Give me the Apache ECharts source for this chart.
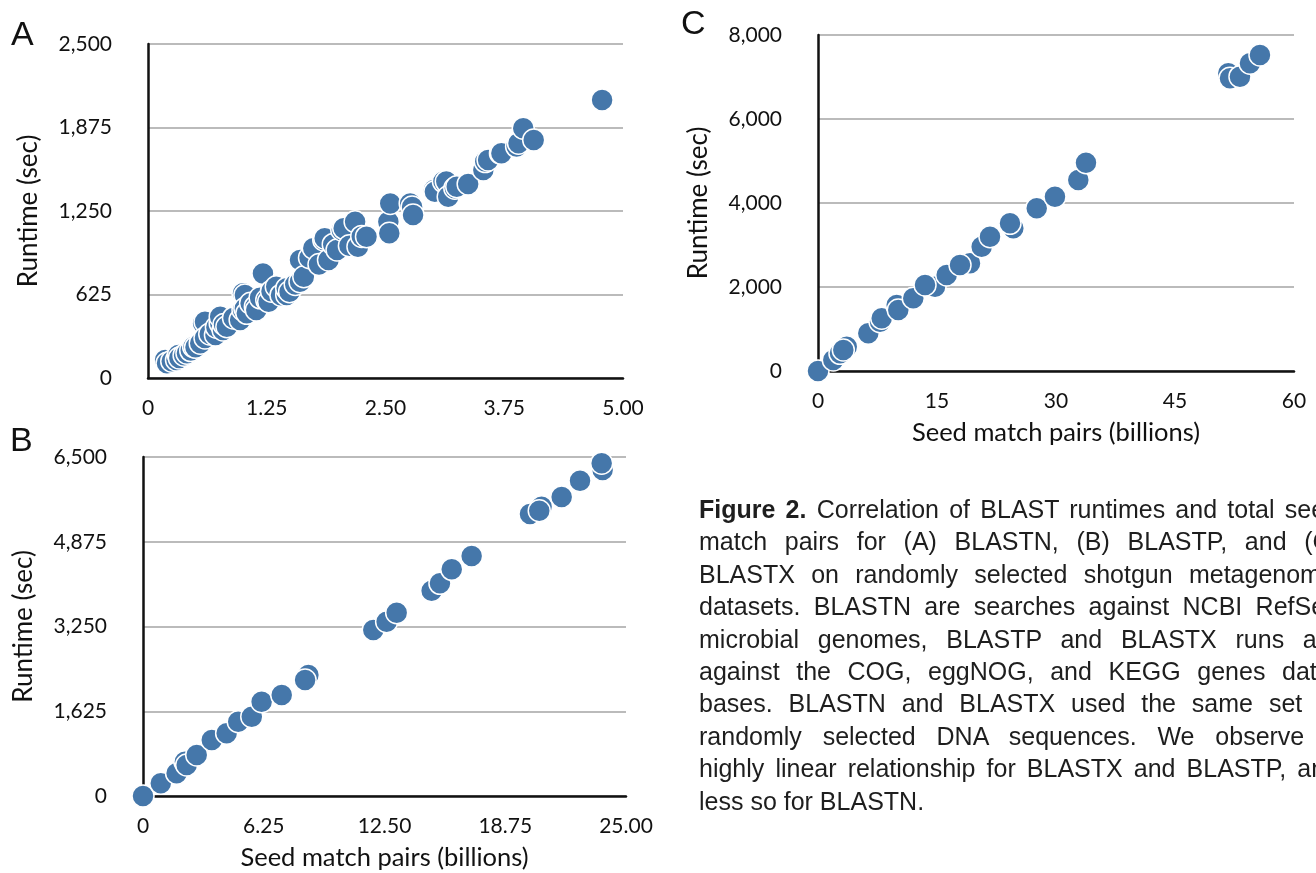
<!DOCTYPE html>
<html>
<head>
<meta charset="utf-8">
<title>Figure 2 - BLAST runtime vs seed match pairs</title>
<script src="https://cdn.jsdelivr.net/npm/echarts@6/dist/echarts.min.js"></script>
<style>
  html, body { margin: 0; padding: 0; background: #fff; overflow: hidden; }
  #main { position: absolute; left: 0; top: 0; width: 1316px; height: 873px; }
  #caption {
    position: absolute; left: 699px; top: 493px; width: 640px;
    font-family: "Liberation Sans", Arial, sans-serif; font-size: 25px;
    line-height: 32.4px; color: #1e1e1e; white-space: nowrap;
  }
  #caption div { text-align: justify; text-align-last: justify; }
  #caption div.last { text-align: left; text-align-last: left; }
</style>
</head>
<body>
<div id="main"></div>
<div id="caption">
  <div><b>Figure 2.</b> Correlation of BLAST runtimes and total seed</div>
  <div>match pairs for (A) BLASTN, (B) BLASTP, and (C)</div>
  <div>BLASTX on randomly selected shotgun metagenomic</div>
  <div>datasets. BLASTN are searches against NCBI RefSeq</div>
  <div>microbial genomes, BLASTP and BLASTX runs are</div>
  <div>against the COG, eggNOG, and KEGG genes data-</div>
  <div>bases. BLASTN and BLASTX used the same set of</div>
  <div>randomly selected DNA sequences. We observe a</div>
  <div>highly linear relationship for BLASTX and BLASTP, and</div>
  <div class="last">less so for BLASTN.</div>
</div>
<script>
// [seed match pairs (billions), runtime (sec)]
var blastnPoints = [
  [0.18, 135], [0.20, 110], [0.25, 125], [0.30, 135], [0.32, 172], [0.33, 150],
  [0.38, 170], [0.41, 185], [0.45, 205], [0.48, 234], [0.50, 230], [0.55, 260],
  [0.58, 409], [0.60, 421], [0.60, 300], [0.65, 330], [0.71, 322], [0.72, 380],
  [0.76, 409], [0.76, 459], [0.79, 359], [0.80, 400], [0.83, 384], [0.90, 450],
  [0.97, 434], [1.00, 509], [1.00, 634], [1.02, 621], [1.02, 520], [1.04, 484],
  [1.08, 560], [1.13, 534], [1.14, 509], [1.18, 600], [1.21, 783], [1.25, 584],
  [1.27, 571], [1.30, 650], [1.35, 683], [1.40, 620], [1.46, 621], [1.46, 671],
  [1.49, 646], [1.55, 700], [1.60, 721], [1.60, 883], [1.64, 758], [1.70, 900],
  [1.74, 971], [1.80, 850], [1.85, 1033], [1.86, 1046], [1.90, 883], [1.95, 1000],
  [1.99, 958], [2.04, 1108], [2.06, 1120], [2.12, 990], [2.18, 1170], [2.21, 983],
  [2.25, 1060], [2.30, 1058], [2.53, 1170], [2.54, 1083], [2.55, 1307], [2.76, 1307],
  [2.78, 1280], [2.79, 1220], [3.01, 1407], [3.02, 1395], [3.11, 1470], [3.14, 1470],
  [3.16, 1357], [3.23, 1420], [3.25, 1432], [3.37, 1452], [3.53, 1557], [3.55, 1620],
  [3.58, 1632], [3.71, 1682], [3.72, 1682], [3.88, 1732], [3.90, 1757], [3.95, 1869],
  [4.06, 1781], [4.78, 2081]
];
var blastpPoints = [
  [0, 0], [0.92, 243], [1.74, 435], [2.17, 658], [2.26, 594], [2.78, 786],
  [3.56, 1074], [4.33, 1202], [4.93, 1425], [5.63, 1521], [6.14, 1808], [7.18, 1937],
  [8.56, 2320], [8.39, 2224], [11.92, 3183], [12.61, 3342], [13.13, 3515], [14.94, 3937],
  [15.37, 4078], [15.98, 4346], [17.01, 4602], [20.03, 5407], [20.63, 5547], [20.51, 5470],
  [21.67, 5735], [22.62, 6046], [23.79, 6251], [23.74, 6379]
];
var blastxPoints = [
  [0, 0], [1.93, 262], [2.77, 421], [3.62, 579], [3.19, 500], [6.34, 898],
  [7.82, 1174], [8.03, 1255], [9.92, 1571], [10.12, 1452], [12.01, 1731], [14.75, 2007],
  [13.49, 2048], [16.22, 2286], [19.16, 2564], [17.90, 2524], [20.63, 2960], [21.68, 3198],
  [24.62, 3398], [24.20, 3516], [27.57, 3874], [29.87, 4150], [32.81, 4548], [33.78, 4960],
  [51.72, 7088], [51.93, 6969], [53.19, 7008], [54.45, 7326], [55.71, 7524]
];

var dotColor = '#4577aa';
var labelFont = 'Lato, "Open Sans", sans-serif';
var letterFont = '34px "Liberation Sans", Arial, sans-serif';

function fmtDec(v) { return v === 0 ? '0' : v.toFixed(2); }
function fmtInt(v) { return v.toLocaleString('en-US'); }

function makeX(idx, max, interval, formatter, name) {
  return {
    gridIndex: idx, type: 'value', min: 0, max: max, interval: interval,
    name: name || '', nameLocation: 'middle', nameGap: 49,
    nameTextStyle: { fontFamily: labelFont, fontSize: 25.5, color: '#111' },
    axisLine: { show: true, lineStyle: { color: '#111', width: 2.5 } },
    axisTick: { show: false },
    axisLabel: { formatter: formatter, fontFamily: labelFont, fontSize: 21, color: '#111', margin: 20 },
    splitLine: { show: false }
  };
}
function makeY(idx, max, interval) {
  return {
    gridIndex: idx, type: 'value', min: 0, max: max, interval: interval,
    name: 'Runtime (sec)', nameLocation: 'middle', nameGap: 106,
    nameTextStyle: { fontFamily: labelFont, fontSize: 26, color: '#111' },
    axisLine: { show: true, lineStyle: { color: '#111', width: 2.5 } },
    axisTick: { show: false },
    axisLabel: { formatter: fmtInt, fontFamily: labelFont, fontSize: 21, color: '#111', margin: 36 },
    splitLine: { show: true, lineStyle: { color: '#bbbbbb', width: 2 } }
  };
}
function makeSeries(idx, pts) {
  return {
    type: 'scatter', xAxisIndex: idx, yAxisIndex: idx, data: pts,
    symbol: 'circle', symbolSize: 22, clip: false,
    itemStyle: { color: dotColor, borderColor: '#fff', borderWidth: 1.5, opacity: 1 }
  };
}

var chart = echarts.init(document.getElementById('main'), null, { renderer: 'canvas' });
var option = {
  backgroundColor: '#fff',
  animation: false,
  grid: [
    { left: 148, top: 44, width: 475, height: 334, outerBoundsMode: 'none' },
    { left: 143, top: 457, width: 483, height: 339, outerBoundsMode: 'none' },
    { left: 818, top: 35, width: 476, height: 336, outerBoundsMode: 'none' }
  ],
  xAxis: [
    makeX(0, 5, 1.25, fmtDec),
    makeX(1, 25, 6.25, fmtDec, 'Seed match pairs (billions)'),
    makeX(2, 60, 15, fmtInt, 'Seed match pairs (billions)')
  ],
  yAxis: [
    makeY(0, 2500, 625),
    makeY(1, 6500, 1625),
    makeY(2, 8000, 2000)
  ],
  series: [
    makeSeries(0, blastnPoints),
    makeSeries(1, blastpPoints),
    makeSeries(2, blastxPoints)
  ],
  graphic: [
    { type: 'text', left: 11, top: 19, style: { text: 'A', font: letterFont, fill: '#111' } },
    { type: 'text', left: 10, top: 425, style: { text: 'B', font: letterFont, fill: '#111' } },
    { type: 'text', left: 681, top: 8, style: { text: 'C', font: letterFont, fill: '#111' } }
  ]
};
chart.setOption(option);
</script>
</body>
</html>
